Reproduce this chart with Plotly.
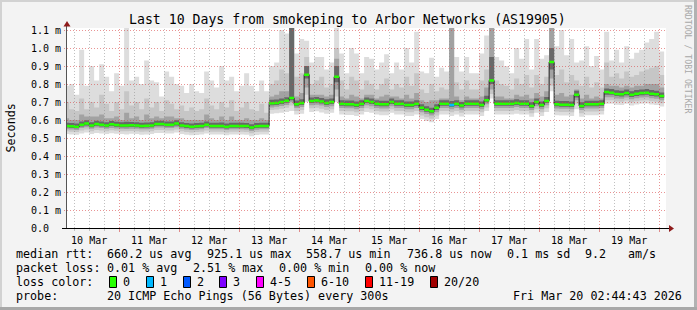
import plotly.graph_objects as go
import pandas as pd

# ---------------- data ----------------
first_step = pd.Timestamp("2026-03-10 02:00:00")
step = pd.Timedelta(hours=2)
graph_start = pd.Timestamp("2026-03-10 02:44:43")
graph_end = pd.Timestamp("2026-03-20 02:44:43")

median_ms = [
    0.567, 0.565, 0.563, 0.574, 0.580, 0.570, 0.578, 0.574, 0.570, 0.576,
    0.572, 0.570, 0.570, 0.571, 0.570, 0.567, 0.568, 0.570, 0.578, 0.578,
    0.574, 0.574, 0.580, 0.570, 0.566, 0.563, 0.565, 0.567, 0.574, 0.567,
    0.567, 0.567, 0.563, 0.567, 0.567, 0.567, 0.566, 0.558, 0.565, 0.567,
    0.567, 0.693, 0.695, 0.700, 0.707, 0.722, 0.688, 0.695, 0.852, 0.705,
    0.708, 0.703, 0.695, 0.700, 0.840, 0.690, 0.688, 0.688, 0.683, 0.690,
    0.705, 0.700, 0.690, 0.687, 0.687, 0.700, 0.690, 0.690, 0.683, 0.683,
    0.690, 0.668, 0.657, 0.648, 0.668, 0.690, 0.690, 0.683, 0.690, 0.680,
    0.690, 0.690, 0.690, 0.683, 0.710, 0.820, 0.690, 0.690, 0.690, 0.690,
    0.695, 0.690, 0.690, 0.678, 0.700, 0.683, 0.705, 0.922, 0.687, 0.685,
    0.685, 0.683, 0.740, 0.678, 0.687, 0.687, 0.687, 0.690, 0.755, 0.752,
    0.745, 0.743, 0.750, 0.740, 0.746, 0.750, 0.752, 0.746, 0.743, 0.733]

smoke_hi1 = [
    0.79, 0.80, 0.74, 0.99, 0.79, 0.90, 0.82, 0.91, 0.84, 0.76,
    0.86, 0.79, 1.111, 0.82, 0.84, 0.80, 0.93, 0.82, 0.81, 0.73,
    0.87, 0.84, 0.80, 0.79, 0.75, 0.80, 0.76, 0.75, 0.87, 0.82,
    0.78, 0.90, 0.82, 0.84, 0.76, 0.79, 0.86, 0.79, 0.76, 0.82,
    0.76, 0.90, 0.92, 1.10, 1.08, 1.111, 0.97, 1.05, 1.04, 0.92,
    0.95, 0.95, 0.88, 0.92, 1.111, 0.97, 0.86, 1.00, 0.97, 0.86,
    0.95, 0.94, 0.88, 0.92, 0.965, 0.86, 0.92, 0.88, 1.00, 0.92,
    1.09, 0.87, 0.86, 0.946, 0.84, 0.89, 0.87, 1.111, 0.95, 0.87,
    0.95, 0.86, 0.86, 0.97, 1.07, 1.111, 0.95, 0.93, 0.90, 0.86,
    1.00, 0.94, 1.05, 0.88, 1.05, 0.94, 0.96, 1.111, 1.01, 1.10,
    0.96, 1.05, 0.92, 0.93, 1.01, 0.90, 0.956, 0.88, 1.09, 0.93,
    0.99, 0.92, 1.01, 0.94, 0.974, 0.99, 1.03, 1.05, 1.09, 0.98]

smoke_hi2 = [
    0.70, 0.66, 0.65, 0.72, 0.66, 0.70, 0.67, 0.74, 0.69, 0.65,
    0.70, 0.66, 0.76, 0.68, 0.70, 0.66, 0.72, 0.67, 0.70, 0.65,
    0.71, 0.69, 0.66, 0.68, 0.65, 0.67, 0.65, 0.66, 0.72, 0.68,
    0.66, 0.70, 0.67, 0.71, 0.65, 0.67, 0.70, 0.66, 0.65, 0.69,
    0.64, 0.80, 0.82, 0.88, 0.86, 1.111, 0.84, 0.86, 0.95, 0.80,
    0.82, 0.84, 0.78, 0.80, 1.00, 0.82, 0.77, 0.84, 0.82, 0.77,
    0.82, 0.80, 0.77, 0.80, 0.83, 0.77, 0.80, 0.78, 0.84, 0.79,
    0.86, 0.77, 0.75, 0.80, 0.76, 0.78, 0.77, 1.111, 0.81, 0.77,
    0.82, 0.77, 0.77, 0.82, 0.88, 1.111, 0.82, 0.80, 0.79, 0.77,
    0.83, 0.80, 0.85, 0.78, 0.85, 0.80, 0.84, 1.111, 0.85, 0.88,
    0.81, 0.85, 0.82, 0.79, 0.84, 0.78, 0.81, 0.78, 0.92, 0.84,
    0.86, 0.83, 0.87, 0.84, 0.85, 0.87, 0.88, 0.89, 0.90, 0.85]

smoke_hi3 = [
    0.61, 0.60, 0.60, 0.63, 0.62, 0.62, 0.62, 0.63, 0.61, 0.61,
    0.62, 0.60, 0.64, 0.61, 0.62, 0.60, 0.63, 0.61, 0.62, 0.61,
    0.62, 0.62, 0.61, 0.61, 0.60, 0.60, 0.60, 0.60, 0.63, 0.61,
    0.60, 0.62, 0.60, 0.62, 0.60, 0.60, 0.61, 0.60, 0.60, 0.61,
    0.60, 0.73, 0.74, 0.76, 0.76, 1.111, 0.73, 0.75, 0.90, 0.74,
    0.74, 0.74, 0.73, 0.74, 0.94, 0.73, 0.72, 0.74, 0.73, 0.72,
    0.74, 0.74, 0.72, 0.73, 0.74, 0.73, 0.73, 0.72, 0.74, 0.72,
    0.75, 0.71, 0.70, 0.71, 0.71, 0.72, 0.72, 1.111, 0.73, 0.71,
    0.73, 0.72, 0.72, 0.73, 0.78, 1.111, 0.73, 0.73, 0.72, 0.72,
    0.74, 0.73, 0.74, 0.72, 0.75, 0.73, 0.76, 1.111, 0.74, 0.75,
    0.73, 0.74, 0.77, 0.72, 0.74, 0.72, 0.73, 0.72, 0.80, 0.79,
    0.79, 0.78, 0.79, 0.78, 0.79, 0.79, 0.80, 0.80, 0.80, 0.78]

smoke_hi4 = [
    0.585, 0.583, 0.580, 0.592, 0.598, 0.588, 0.596, 0.592, 0.588, 0.594,
    0.590, 0.588, 0.590, 0.589, 0.588, 0.585, 0.586, 0.588, 0.596, 0.596,
    0.592, 0.592, 0.598, 0.588, 0.584, 0.580, 0.583, 0.585, 0.592, 0.585,
    0.585, 0.586, 0.580, 0.585, 0.585, 0.585, 0.584, 0.576, 0.583, 0.585,
    0.585, 0.712, 0.714, 0.720, 0.727, 1.111, 0.708, 0.715, 0.900, 0.725,
    0.728, 0.722, 0.715, 0.720, 0.900, 0.710, 0.708, 0.708, 0.703, 0.710,
    0.725, 0.720, 0.710, 0.707, 0.707, 0.720, 0.710, 0.710, 0.703, 0.703,
    0.710, 0.688, 0.677, 0.668, 0.688, 0.710, 0.710, 0.705, 0.710, 0.700,
    0.710, 0.710, 0.710, 0.703, 0.735, 0.950, 0.710, 0.710, 0.710, 0.710,
    0.715, 0.710, 0.710, 0.698, 0.720, 0.703, 0.728, 1.000, 0.707, 0.705,
    0.705, 0.703, 0.762, 0.698, 0.707, 0.707, 0.707, 0.710, 0.775, 0.772,
    0.765, 0.763, 0.770, 0.760, 0.766, 0.770, 0.772, 0.766, 0.763, 0.753]

smoke_lo4 = [
    0.558, 0.556, 0.554, 0.564, 0.570, 0.560, 0.568, 0.564, 0.560, 0.566,
    0.562, 0.560, 0.560, 0.561, 0.560, 0.557, 0.558, 0.560, 0.568, 0.568,
    0.564, 0.564, 0.570, 0.560, 0.556, 0.553, 0.555, 0.557, 0.564, 0.557,
    0.557, 0.557, 0.553, 0.557, 0.557, 0.557, 0.556, 0.548, 0.555, 0.557,
    0.557, 0.682, 0.684, 0.689, 0.696, 0.710, 0.677, 0.684, 0.830, 0.694,
    0.697, 0.692, 0.684, 0.689, 0.810, 0.679, 0.677, 0.677, 0.672, 0.679,
    0.694, 0.689, 0.679, 0.676, 0.676, 0.689, 0.679, 0.679, 0.672, 0.672,
    0.679, 0.656, 0.646, 0.637, 0.656, 0.679, 0.679, 0.672, 0.679, 0.669,
    0.679, 0.679, 0.679, 0.672, 0.699, 0.800, 0.679, 0.679, 0.679, 0.679,
    0.684, 0.679, 0.679, 0.667, 0.689, 0.672, 0.694, 0.880, 0.676, 0.674,
    0.674, 0.672, 0.725, 0.667, 0.676, 0.676, 0.676, 0.679, 0.740, 0.740,
    0.733, 0.731, 0.738, 0.728, 0.734, 0.738, 0.740, 0.734, 0.731, 0.722]

smoke_lo3 = [
    0.549, 0.547, 0.545, 0.555, 0.560, 0.551, 0.558, 0.555, 0.551, 0.556,
    0.553, 0.551, 0.550, 0.552, 0.551, 0.548, 0.549, 0.551, 0.558, 0.558,
    0.555, 0.555, 0.560, 0.551, 0.547, 0.544, 0.546, 0.548, 0.555, 0.548,
    0.548, 0.548, 0.544, 0.548, 0.548, 0.548, 0.547, 0.539, 0.546, 0.548,
    0.548, 0.670, 0.673, 0.678, 0.684, 0.698, 0.666, 0.672, 0.780, 0.682,
    0.685, 0.680, 0.672, 0.677, 0.770, 0.667, 0.665, 0.665, 0.660, 0.667,
    0.682, 0.677, 0.667, 0.664, 0.664, 0.677, 0.667, 0.667, 0.660, 0.660,
    0.667, 0.643, 0.633, 0.625, 0.643, 0.667, 0.667, 0.660, 0.667, 0.657,
    0.667, 0.667, 0.667, 0.660, 0.687, 0.770, 0.667, 0.667, 0.667, 0.667,
    0.672, 0.667, 0.667, 0.655, 0.677, 0.660, 0.682, 0.830, 0.664, 0.662,
    0.662, 0.660, 0.710, 0.655, 0.664, 0.664, 0.664, 0.667, 0.727, 0.727,
    0.720, 0.718, 0.725, 0.715, 0.721, 0.725, 0.727, 0.721, 0.718, 0.710]

smoke_lo2 = [
    0.537, 0.535, 0.533, 0.542, 0.547, 0.538, 0.545, 0.542, 0.538, 0.543,
    0.540, 0.538, 0.537, 0.539, 0.538, 0.535, 0.536, 0.538, 0.545, 0.545,
    0.542, 0.542, 0.547, 0.538, 0.534, 0.531, 0.533, 0.535, 0.542, 0.535,
    0.535, 0.535, 0.531, 0.535, 0.535, 0.535, 0.534, 0.526, 0.533, 0.535,
    0.535, 0.655, 0.658, 0.662, 0.668, 0.680, 0.650, 0.656, 0.740, 0.665,
    0.668, 0.663, 0.656, 0.660, 0.730, 0.650, 0.648, 0.648, 0.643, 0.650,
    0.665, 0.660, 0.650, 0.647, 0.647, 0.660, 0.650, 0.650, 0.643, 0.643,
    0.650, 0.625, 0.615, 0.607, 0.625, 0.650, 0.650, 0.643, 0.650, 0.640,
    0.650, 0.650, 0.650, 0.643, 0.670, 0.745, 0.650, 0.650, 0.650, 0.650,
    0.655, 0.650, 0.650, 0.638, 0.660, 0.643, 0.665, 0.790, 0.647, 0.645,
    0.645, 0.643, 0.690, 0.638, 0.647, 0.647, 0.647, 0.650, 0.710, 0.710,
    0.703, 0.701, 0.708, 0.698, 0.704, 0.708, 0.710, 0.704, 0.701, 0.693]

smoke_lo1 = [
    0.522, 0.520, 0.518, 0.525, 0.530, 0.522, 0.528, 0.525, 0.522, 0.526,
    0.524, 0.522, 0.520, 0.524, 0.522, 0.518, 0.520, 0.522, 0.528, 0.528,
    0.525, 0.525, 0.530, 0.522, 0.518, 0.515, 0.517, 0.520, 0.525, 0.520,
    0.520, 0.520, 0.515, 0.520, 0.520, 0.520, 0.518, 0.510, 0.517, 0.520,
    0.520, 0.635, 0.638, 0.640, 0.645, 0.650, 0.630, 0.635, 0.700, 0.645,
    0.648, 0.642, 0.635, 0.640, 0.700, 0.630, 0.628, 0.628, 0.622, 0.630,
    0.645, 0.640, 0.630, 0.627, 0.627, 0.640, 0.630, 0.630, 0.622, 0.622,
    0.630, 0.605, 0.595, 0.588, 0.605, 0.630, 0.630, 0.622, 0.630, 0.620,
    0.630, 0.630, 0.630, 0.622, 0.650, 0.720, 0.630, 0.630, 0.630, 0.630,
    0.635, 0.630, 0.630, 0.618, 0.640, 0.622, 0.645, 0.760, 0.627, 0.625,
    0.625, 0.622, 0.660, 0.618, 0.627, 0.627, 0.627, 0.630, 0.690, 0.690,
    0.685, 0.683, 0.690, 0.680, 0.686, 0.690, 0.692, 0.686, 0.683, 0.675]

loss_step_index = [77]
loss_step_count = [1]

loss_bins = ["0", "1", "2", "3", "4-5", "6-10", "11-19", "20/20"]
loss_bin_upper = [0, 1, 2, 3, 5, 10, 19, 20]
loss_colors = ["#26ff00", "#00b8ff", "#0059ff", "#7e00ff",
               "#ff00ff", "#ff5500", "#ff0000", "#a10000"]

ytick_values = [0.0, 0.1, 0.2, 0.3, 0.4, 0.5, 0.6, 0.7, 0.8, 0.9, 1.0, 1.1]
ytick_labels = ["0.0\u00a0\u00a0", "0.1 m", "0.2 m", "0.3 m", "0.4 m", "0.5 m",
                "0.6 m", "0.7 m", "0.8 m", "0.9 m", "1.0 m", "1.1 m"]

title_text = "Last 10 Days from smokeping to Arbor Networks (AS19905)"
rtt_label = "median rtt:"
rtt_stats = ["660.2 us avg", "925.1 us max", "558.7 us min", "736.8 us now", "0.1 ms sd"]
am_value = "9.2"
am_unit = "am/s"
loss_label = "packet loss:"
loss_stats = ["0.01 % avg", "2.51 % max", "0.00 % min", "0.00 % now"]
color_label = "loss color:"
probe_label = "probe:"
probe_text = "20 ICMP Echo Pings (56 Bytes) every 300s"
stamp_text = "Fri Mar 20 02:44:43 2026"
watermark = "RRDTOOL / TOBI OETIKER"

# ---------------- layout constants (pixels) ----------------
W, H = 697, 310
PL, PR, PT, PB = 66, 666, 28, 228          # plot area
YMAX = (PB - PT) / 180.0                    # 180 px per ms
FONT = "DejaVu Sans Mono"
BG = "#f3f3f3"
MGRID = "rgba(215,60,60,0.55)"
GRID = "rgba(140,140,140,0.55)"
DOT = "1px,2px"
SW = 1.25 / 180.0                           # half-thickness of the median band


def px(x):
    return (x - PL) / (PR - PL)


def py(y):
    return (PB - y) / (PB - PT)


n = len(median_ms)
t = [first_step + step * k for k in range(n + 1)]


def ext(a):
    return list(a) + [a[-1]]


fig = go.Figure()

bands = [
    (smoke_lo1, smoke_hi1, "#dddddd"),
    (smoke_lo2, smoke_hi2, "#c6c6c6"),
    (smoke_lo3, smoke_hi3, "#a2a2a2"),
    (smoke_lo4, smoke_hi4, "#686868"),
]
for lo, hi, col in bands:
    fig.add_trace(go.Scatter(x=t, y=ext(lo), mode="lines",
                             line=dict(width=0, shape="hv"),
                             hoverinfo="skip", showlegend=False))
    fig.add_trace(go.Scatter(x=t, y=ext(hi), mode="lines",
                             line=dict(width=0, shape="hv"),
                             fill="tonexty", fillcolor=col,
                             hoverinfo="skip", showlegend=False))

# dark median line
fig.add_trace(go.Scatter(x=t, y=ext(median_ms), mode="lines",
                         line=dict(width=1, color="#202020", shape="hv"),
                         hoverinfo="skip", showlegend=False))

# loss-coloured median band (0 loss everywhere first)
fig.add_trace(go.Scatter(x=t, y=ext([m - SW for m in median_ms]), mode="lines",
                         line=dict(width=0, shape="hv"),
                         hoverinfo="skip", showlegend=False))
fig.add_trace(go.Scatter(x=t, y=ext([m + SW for m in median_ms]), mode="lines",
                         line=dict(width=0, shape="hv"), fill="tonexty",
                         fillcolor=loss_colors[0],
                         hoverinfo="skip", showlegend=False))


def loss_color(c):
    for up, col in zip(loss_bin_upper, loss_colors):
        if c <= up:
            return col
    return loss_colors[-1]


for k, c in zip(loss_step_index, loss_step_count):
    xs = [t[k], t[k + 1]]
    m = median_ms[k]
    fig.add_trace(go.Scatter(x=xs, y=[m - SW, m - SW], mode="lines",
                             line=dict(width=0, shape="hv"),
                             hoverinfo="skip", showlegend=False))
    fig.add_trace(go.Scatter(x=xs, y=[m + SW, m + SW], mode="lines",
                             line=dict(width=0, shape="hv"), fill="tonexty",
                             fillcolor=loss_color(c),
                             hoverinfo="skip", showlegend=False))

shapes = []
# grid drawn above the smoke, pixel-snapped
span = (graph_end - graph_start).total_seconds()
g = pd.Timestamp("2026-03-10 06:00:00")
while g < graph_end:
    xp = PL + (PR - PL) * (g - graph_start).total_seconds() / span
    xs = int(xp) + 0.5
    col = MGRID if (g.hour == 0) else GRID
    shapes.append(dict(type="line", xref="paper", yref="paper",
                       x0=px(xs), x1=px(xs), y0=py(PB), y1=py(PT),
                       line=dict(color=col, width=1, dash=DOT), layer="above"))
    g += pd.Timedelta(hours=6)
for v in ytick_values[1:]:
    yp = int(round(PB - 180 * v)) + 0.5
    shapes.append(dict(type="line", xref="paper", yref="paper",
                       x0=px(PL - 2), x1=px(PR + 1), y0=py(yp), y1=py(yp),
                       line=dict(color=MGRID, width=1, dash=DOT), layer="above"))

# axes lines and arrows
shapes.append(dict(type="line", xref="paper", yref="paper",
                   x0=px(PL + 0.5), x1=px(PL + 0.5), y0=py(PB + 1), y1=py(25),
                   line=dict(color="#555555", width=1), layer="above"))
shapes.append(dict(type="line", xref="paper", yref="paper",
                   x0=px(62), x1=px(670), y0=py(PB + 0.5), y1=py(PB + 0.5),
                   line=dict(color="#000000", width=1), layer="above"))
shapes.append(dict(type="path", xref="paper", yref="paper",
                   path="M %f %f L %f %f L %f %f Z" % (px(63.5), py(26.5), px(70.5), py(26.5), px(67), py(21)),
                   fillcolor="#8e1b1b", line=dict(width=0), layer="above"))
shapes.append(dict(type="path", xref="paper", yref="paper",
                   path="M %f %f L %f %f L %f %f Z" % (px(669), py(225), px(669), py(232), px(674), py(228.5)),
                   fillcolor="#8e1b1b", line=dict(width=0), layer="above"))

# frame
shapes.append(dict(type="rect", xref="paper", yref="paper",
                   x0=px(0), x1=px(W), y0=py(0), y1=py(2),
                   fillcolor="#d2d2d2", line=dict(width=0), layer="below"))
shapes.append(dict(type="rect", xref="paper", yref="paper",
                   x0=px(0), x1=px(2), y0=py(0), y1=py(H),
                   fillcolor="#d2d2d2", line=dict(width=0), layer="below"))
shapes.append(dict(type="rect", xref="paper", yref="paper",
                   x0=px(W - 3), x1=px(W), y0=py(0), y1=py(H),
                   fillcolor="#b2b2b2", line=dict(width=0), layer="below"))
shapes.append(dict(type="rect", xref="paper", yref="paper",
                   x0=px(0), x1=px(W), y0=py(H - 3), y1=py(H),
                   fillcolor="#a8a8a8", line=dict(width=0), layer="below"))

annotations = []


def text(x, y, s, size=11.7, anchor="left", color="#000000", angle=0):
    annotations.append(dict(xref="paper", yref="paper", x=px(x), y=py(y),
                            text=s, showarrow=False, xanchor=anchor,
                            yanchor="middle", borderpad=0, borderwidth=0,
                            textangle=angle,
                            font=dict(family=FONT, size=size, color=color)))


text(347, 19, title_text, size=13.2, anchor="center")
text(10.5, 128, "Seconds", size=11.7, anchor="center", angle=-90)
text(688, 59, watermark, size=8.2, anchor="center", color="#a8a8a8", angle=90)

row1, row2, row3, row4 = 254.3, 268.3, 282.3, 296.3
text(16, row1, rtt_label)
for xx, s in zip([107, 207, 306, 407, 507], rtt_stats):
    text(xx, row1, s)
text(585, row1, am_value)
text(628, row1, am_unit)

text(16, row2, loss_label)
for xx, s in zip([107, 193, 279, 365], loss_stats):
    text(xx, row2, s)

text(16, row3, color_label)
box_x = [109, 146, 183, 219, 256, 307, 365, 430]
for bx, lab, col in zip(box_x, loss_bins, loss_colors):
    shapes.append(dict(type="rect", xref="paper", yref="paper",
                       x0=px(bx + 0.5), x1=px(bx + 7.5), y0=py(276.5), y1=py(287.5),
                       fillcolor=col, line=dict(color="#000000", width=1), layer="above"))
    text(bx + 14, row3, lab)

text(16, row4, probe_label)
text(107, row4, probe_text)
text(513, row4, stamp_text)

fig.update_layout(
    width=W, height=H,
    margin=dict(l=PL, r=W - PR, t=PT, b=H - PB, pad=0),
    paper_bgcolor=BG, plot_bgcolor="#ffffff",
    showlegend=False,
    xaxis=dict(type="date", range=[graph_start, graph_end], automargin=False,
               showgrid=False, zeroline=False, showline=False,
               tickmode="linear", tick0="2026-03-10", dtick=86400000,
               tickformat="%d %b", ticklabelmode="period",
               ticks="outside", ticklen=3, tickcolor="#e08a8a",
               tickfont=dict(family=FONT, size=10, color="#000000"),
               minor=dict(dtick=21600000, tick0="2026-03-10", ticks="outside",
                          ticklen=2, tickcolor="#c0c0c0", showgrid=False)),
    yaxis=dict(range=[0, YMAX], automargin=False, showgrid=False,
               zeroline=False, showline=False,
               tickmode="array", tickvals=ytick_values, ticktext=ytick_labels,
               ticks="", ticklabelstandoff=4,
               tickfont=dict(family=FONT, size=10, color="#000000")),
    shapes=shapes, annotations=annotations,
)

fig.write_html("out.html")
